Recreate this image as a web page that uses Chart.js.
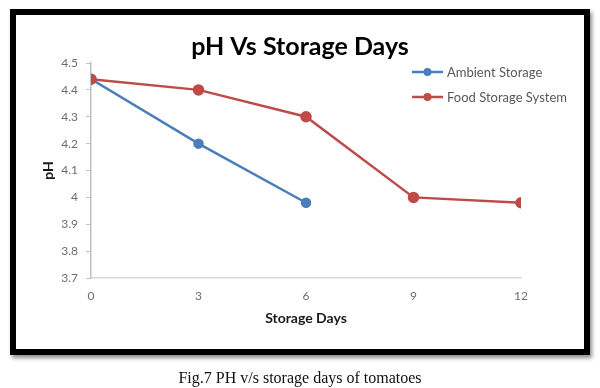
<!DOCTYPE html>
<html lang="en">
<head>
    <meta charset="UTF-8">
    <title>pH Vs Storage Days</title>
    <script src="https://cdn.jsdelivr.net/npm/chart.js"></script>
    <style>
        body { margin: 0; background: #fff; }
        #frame {
            position: absolute; left: 10px; top: 9px;
            width: 580px; height: 346px; box-sizing: border-box;
            border: 6px solid #000; background: #fff;
            box-shadow: 2px 3px 4px rgba(0,0,0,0.45);
        }
        #wrap { position: absolute; left: 0; top: 0; width: 600px; height: 388px; }
        #caption {
            position: absolute; left: 0; width: 600px; top: 370px;
            text-align: center; font-family: "Liberation Serif", serif;
            font-size: 16px; line-height: 16px; color: #111;
        }
    </style>
</head>
<body>
    <div id="frame"></div>
    <div id="wrap"><canvas id="phChart" width="600" height="388"></canvas></div>
    <div id="caption">Fig.7 PH v/s storage days of tomatoes</div>

    <script>
        // values
        const days = [0, 3, 6, 9, 12];
        const ambientPH = [4.44, 4.2, 3.98];
        const foodStoragePH = [4.44, 4.4, 4.3, 4.0, 3.98];
        const seriesNames = ['Ambient Storage', 'Food Storage System'];
        const yMin = 3.7, yMax = 4.5, yStep = 0.1;
        const xStep = 3;

        const blue = '#4a7ebb';
        const red = '#be4b48';

        function toPoints(values) {
            return values.map((v, i) => ({ x: days[i], y: v }));
        }

        // Excel style legend: short line with a dot, drawn inside the plot
        const excelLegend = {
            id: 'excelLegend',
            afterDraw(chart) {
                const ctx = chart.ctx;
                const rows = [72, 97];
                chart.data.datasets.forEach((ds, i) => {
                    const y = rows[i];
                    ctx.save();
                    ctx.strokeStyle = ds.borderColor;
                    ctx.lineWidth = 2.5;
                    ctx.beginPath();
                    ctx.moveTo(412, y);
                    ctx.lineTo(443, y);
                    ctx.stroke();
                    ctx.fillStyle = ds.borderColor;
                    ctx.beginPath();
                    ctx.arc(427.5, y, 4, 0, Math.PI * 2);
                    ctx.fill();
                    ctx.fillStyle = '#595959';
                    ctx.font = '13px Lato';
                    ctx.textBaseline = 'middle';
                    ctx.fillText(ds.label, 447, y + 0.5);
                    ctx.restore();
                });
            }
        };

        const ctx = document.getElementById('phChart').getContext('2d');
        const chart = new Chart(ctx, {
            type: 'line',
            data: {
                datasets: [
                    {
                        label: seriesNames[0],
                        data: toPoints(ambientPH),
                        borderColor: blue,
                        backgroundColor: blue,
                        pointBackgroundColor: blue,
                        borderWidth: 2.5,
                        pointRadius: 4,
                        yAxisID: 'y',
                        order: 1
                    },
                    {
                        label: seriesNames[1],
                        data: toPoints(foodStoragePH),
                        borderColor: red,
                        backgroundColor: red,
                        pointBackgroundColor: red,
                        borderWidth: 2.5,
                        pointRadius: 4.5,
                        yAxisID: 'y',
                        order: 0
                    }
                ]
            },
            options: {
                responsive: false,
                animation: false,
                layout: { padding: 0 },
                plugins: {
                    legend: { display: false },
                    tooltip: { enabled: false },
                    title: {
                        display: true,
                        text: 'pH Vs Storage Days',
                        color: '#000',
                        font: { family: 'Lato', size: 25, weight: 'bold' },
                        padding: { top: 31.5, bottom: 1.5 }
                    }
                },
                scales: {
                    x: {
                        type: 'linear',
                        min: days[0],
                        max: days[days.length - 1],
                        ticks: {
                            stepSize: xStep,
                            color: '#6d6d6d',
                            font: { family: 'Lato', size: 12 },
                            padding: 11
                        },
                        grid: { display: true, drawOnChartArea: false, drawTicks: false },
                        border: { color: '#d9d9d9', width: 1.5 },
                        title: {
                            display: true,
                            text: 'Storage Days',
                            color: '#1a1a1a',
                            font: { family: 'Lato', size: 14, weight: 'bold' },
                            padding: { top: 0, bottom: 61.6 }
                        },
                        afterFit(scale) { scale.height = 110; }
                    },
                    y: {
                        min: yMin,
                        max: yMax,
                        ticks: {
                            stepSize: yStep,
                            color: '#6d6d6d',
                            font: { family: 'Lato', size: 12 },
                            padding: 8,
                            callback: value => String(Math.round(value * 10) / 10)
                        },
                        grid: { drawOnChartArea: false, drawTicks: true, tickLength: 5, color: '#bfbfbf' },
                        border: { color: '#bfbfbf', width: 1.5 },
                        title: {
                            display: true,
                            text: 'pH',
                            color: '#1a1a1a',
                            font: { family: 'Lato', size: 14, weight: 'bold' },
                            padding: { top: 39.6, bottom: 0 }
                        },
                        afterFit(scale) { scale.width = 91; }
                    },
                    // empty right-hand axis, only reserves the space where the legend sits
                    spacer: {
                        type: 'linear',
                        position: 'right',
                        min: yMin,
                        max: yMax,
                        ticks: { display: false },
                        grid: { display: false },
                        border: { display: false },
                        afterFit(scale) { scale.width = 79; }
                    }
                }
            },
            plugins: [excelLegend]
        });
    </script>
</body>
</html>
